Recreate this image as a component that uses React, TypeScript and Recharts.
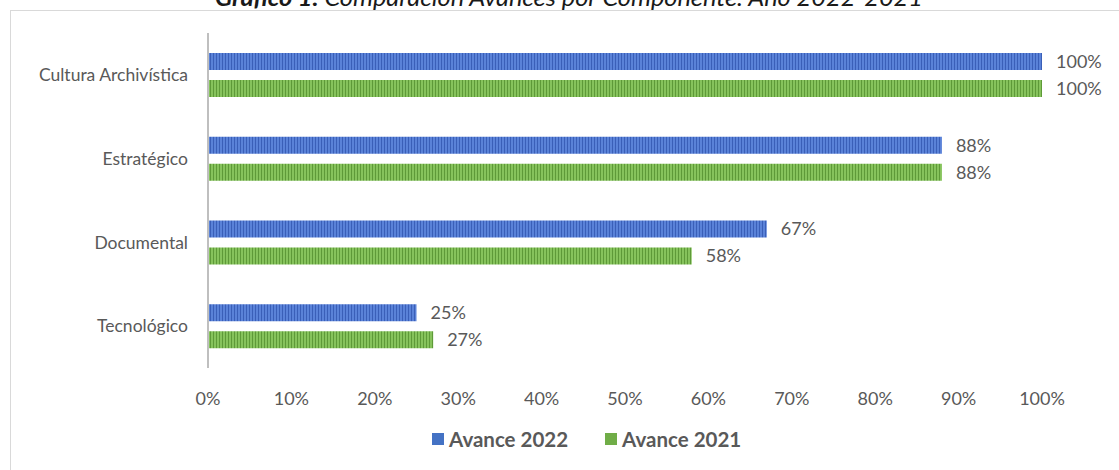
import React from "react";
import { BarChart, Bar, XAxis, YAxis, LabelList } from "recharts";

const categories = ["Cultura Archivística", "Estratégico", "Documental", "Tecnológico"];
const avance2022 = [100, 88, 67, 25];
const avance2021 = [100, 88, 58, 27];
const xTicks = [0, 10, 20, 30, 40, 50, 60, 70, 80, 90, 100];
const seriesNames = ["Avance 2022", "Avance 2021"];
const seriesColors = ["#4472C4", "#70AD47"];

const data = categories.map((c, i) => ({ name: c, a2022: avance2022[i], a2021: avance2021[i] }));

const FONT = "Lato, 'Open Sans', sans-serif";
const TXT = "#595959";

export default function App() {
  return (
    <div style={{ position: "absolute", left: 0, top: 0, width: 1119, height: 470, overflow: "hidden", background: "#fff" }}>
      <div style={{ position: "absolute", left: 10, top: 10, width: 1130, height: 480, border: "1px solid #d9d9d9", boxSizing: "border-box" }} />
      <svg style={{ position: "absolute", left: 0, top: 0 }} width={1119} height={30}>
        <text x={215} y={6} textLength={708} lengthAdjust="spacingAndGlyphs" fontFamily={FONT} fontSize={23} fontStyle="italic" fill="#1a1a1a">
          <tspan fontWeight={700}>Gráfico 1.</tspan> Comparación Avances por Componente. Año 2022-2021
        </text>
      </svg>
      <div style={{ position: "absolute", left: 0, top: 0 }}>
        <BarChart width={1119} height={470} data={data} layout="vertical" margin={{ top: 33, right: 77, bottom: 0, left: 0 }} barSize={17} barGap={10}>
          <defs>
            <pattern id="stripeBlue" width="3" height="10" patternUnits="userSpaceOnUse">
              <rect width="3" height="10" fill="#5a82d8" />
              <rect width="1" height="10" fill="#3a5fb8" />
            </pattern>
            <pattern id="stripeGreen" width="3" height="10" patternUnits="userSpaceOnUse">
              <rect width="3" height="10" fill="#86c35c" />
              <rect width="1" height="10" fill="#5e9a38" />
            </pattern>
          </defs>
          <XAxis type="number" domain={[0, 100]} ticks={xTicks} tickFormatter={(v) => `${v}%`} axisLine={false} tickLine={false} tick={{ fill: TXT, fontSize: 18, fontFamily: FONT }} tickMargin={18} height={102} />
          <YAxis type="category" dataKey="name" width={208} axisLine={{ stroke: "#bfbfbf", strokeWidth: 2 }} tickLine={false} tick={{ fill: TXT, fontSize: 17.5, fontFamily: FONT }} tickMargin={14} />
          <Bar dataKey="a2022" name={seriesNames[0]} fill="url(#stripeBlue)" isAnimationActive={false}>
            <LabelList dataKey="a2022" position="right" offset={14} formatter={(v: number) => `${v}%`} style={{ fill: TXT, fontSize: 18, fontFamily: FONT }} />
          </Bar>
          <Bar dataKey="a2021" name={seriesNames[1]} fill="url(#stripeGreen)" isAnimationActive={false}>
            <LabelList dataKey="a2021" position="right" offset={14} formatter={(v: number) => `${v}%`} style={{ fill: TXT, fontSize: 18, fontFamily: FONT }} />
          </Bar>
        </BarChart>
      </div>
      <div style={{ position: "absolute", left: 432, top: 427, display: "flex", gap: 37, fontFamily: FONT, fontSize: 20.5, fontWeight: 700, color: TXT, lineHeight: "24px" }}>
        {seriesNames.map((n, i) => (
          <span key={n} style={{ display: "inline-flex", alignItems: "center", gap: 5 }}>
            <span style={{ display: "inline-block", width: 12, height: 12, background: seriesColors[i] }} />
            {n}
          </span>
        ))}
      </div>
    </div>
  );
}
